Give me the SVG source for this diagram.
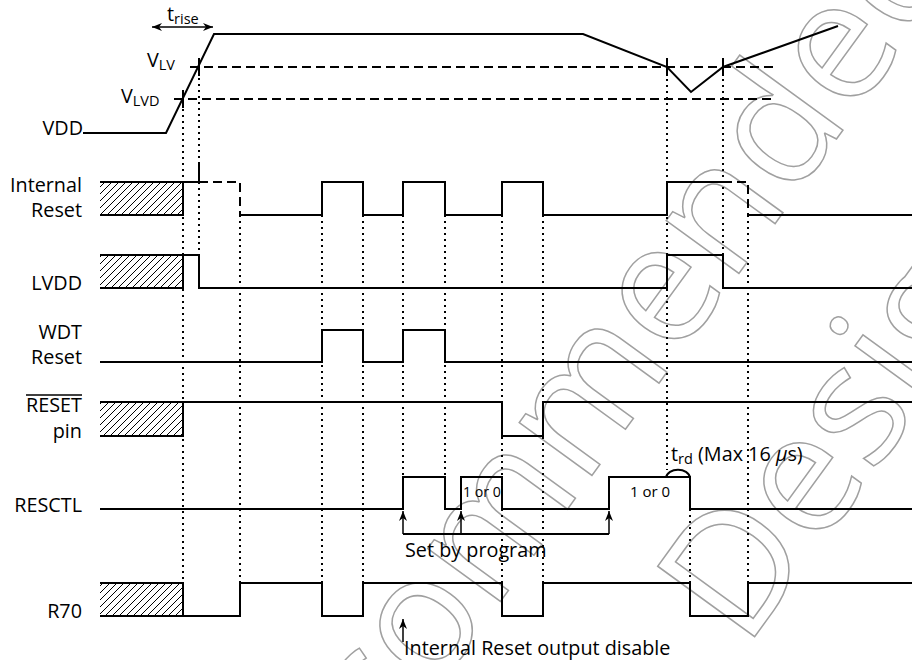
<svg xmlns="http://www.w3.org/2000/svg" width="912" height="660" viewBox="0 0 912 660">
<style>
.w{fill:none;stroke:#000;stroke-width:2;stroke-linejoin:miter}
.dash{fill:none;stroke:#000;stroke-width:2;stroke-dasharray:9 5}
.dot{fill:none;stroke:#000;stroke-width:2;stroke-dasharray:2 4}
.t{font-family:"Open Sans","Noto Sans","Liberation Sans",sans-serif;font-size:19.8px;fill:#000}
.s{font-size:14.5px}
.sm{font-family:"Open Sans","Noto Sans","Liberation Sans",sans-serif;font-size:15px;fill:#000}
.wm{font-family:"Open Sans","Noto Sans","Liberation Sans",sans-serif;font-size:168px;fill:none;stroke:#a0a0a0;stroke-width:1.5}
.ar{fill:none;stroke:#000;stroke-width:1.5}
</style>
<defs>
<pattern id="hatch" patternUnits="userSpaceOnUse" width="7" height="7">
<path d="M-1,8 L8,-1 M-1,1 L1,-1 M6,8 L8,6" stroke="#000" stroke-width="1"/>
</pattern>
<marker id="ah" viewBox="0 0 10 8" refX="10" refY="4" markerWidth="10" markerHeight="8" orient="auto-start-reverse" markerUnits="userSpaceOnUse">
<path d="M0,0 L10,4 L0,8 L3,4 Z" fill="#000"/>
</marker>
</defs>
<rect width="912" height="660" fill="#fff"/>

<g id="watermark">
<text class="wm" transform="translate(269,920) rotate(-54)">Recommended</text>
<text class="wm" transform="translate(745,650) rotate(-54)">Design</text>
</g>

<g id="guides">
<path class="dot" d="M183,103 V583 M199,72 V163 M199,182 V255 M240,215 V583 M322,215 V583 M363,215 V583 M403,215 V477 M445,215 V477 M502,215 V583 M543,215 V583 M667,67 V470 M723,67 V255 M748,215 V583 M690,509 V583"/>
</g>

<g id="vdd">
<text class="t" x="83" y="135" text-anchor="end">VDD</text>
<path class="w" d="M83,133 H166 L214,34 H583 L667,67 L691,92 L723,67 L838,26"/>
<path class="dash" d="M190,67 H773 M174,99 H773"/>
<path class="w" d="M199,58 V76 M183,90 V108 M667,58 V76 M723,58 V76"/>
<text class="t" x="147" y="67">V<tspan class="s" dy="3">LV</tspan></text>
<text class="t" x="121" y="103">V<tspan class="s" dy="3">LVD</tspan></text>
<text class="t" x="167" y="21">t<tspan class="s" dy="3">rise</tspan></text>
<path class="ar" d="M152,27 H213" marker-start="url(#ah)" marker-end="url(#ah)"/>
</g>

<g id="internal-reset">
<text class="t" x="82" y="192" text-anchor="end">Internal</text>
<text class="t" x="82" y="217" text-anchor="end">Reset</text>
<rect x="100" y="182" width="83" height="33" fill="url(#hatch)"/>
<path class="w" d="M100,182 H199 M183,182 V215 H100 M199,163 V182"/>
<path class="dash" d="M199,182 H240 V215 M723,182 H748 V215"/>
<path class="w" d="M240,215 H322 V182 H363 V215 H403 V182 H445 V215 H502 V182 H543 V215 H667 V182 H723 M748,215 H912"/>
</g>

<g id="lvdd">
<text class="t" x="82" y="290" text-anchor="end">LVDD</text>
<rect x="100" y="255" width="83" height="33" fill="url(#hatch)"/>
<path class="w" d="M100,255 H199 V288 H667 V255 H723 V288 H912 M183,255 V288 H100"/>
</g>

<g id="wdt-reset">
<text class="t" x="82" y="339" text-anchor="end">WDT</text>
<text class="t" x="82" y="364" text-anchor="end">Reset</text>
<path class="w" d="M100,362 H322 V330 H363 V362 H403 V330 H445 V362 H912"/>
</g>

<g id="reset-pin">
<text class="t" x="82" y="412" text-anchor="end">RESET</text>
<path d="M26,395 H82" stroke="#000" stroke-width="1.5"/>
<text class="t" x="82" y="438" text-anchor="end">pin</text>
<rect x="100" y="402" width="83" height="34" fill="url(#hatch)"/>
<path class="w" d="M100,402 H502 V436 H543 V402 H912 M183,402 V436 H100"/>
</g>

<g id="resctl">
<text class="t" x="82" y="512" text-anchor="end">RESCTL</text>
<path class="w" d="M100,509 H403 V477 H445 V509 H461 V477 H502 V509 H609 V477 H690 V509 H912"/>
<text class="sm" x="463" y="497" textLength="38" lengthAdjust="spacingAndGlyphs">1 or 0</text>
<text class="sm" x="650" y="497" text-anchor="middle">1 or 0</text>
<path d="M666,478 C667,467 689,467 690,478" fill="none" stroke="#000" stroke-width="2"/>
<text class="t" x="671" y="461">t<tspan class="s" dy="3">rd</tspan><tspan dy="-3"> (Max 16 </tspan><tspan font-style="italic">μ</tspan>s)</text>
</g>

<g id="r70">
<text class="t" x="82" y="618" text-anchor="end">R70</text>
<rect x="100" y="583" width="83" height="33" fill="url(#hatch)"/>
<path class="w" d="M100,583 H183 V616 H100 M183,616 H240 V583 H322 V616 H363 V583 H502 V616 H543 V583 H690 V616 H748 V583 H912"/>
</g>

<g id="connectors">
<path d="M403,534 H609" fill="none" stroke="#000" stroke-width="2"/>
<path class="ar" d="M403,534 V511" marker-end="url(#ah)"/>
<path class="ar" d="M461,534 V511" marker-end="url(#ah)"/>
<path class="ar" d="M609,534 V511" marker-end="url(#ah)"/>
<text class="t" x="405" y="557">Set by program</text>
<path class="ar" d="M403,642 V619" marker-end="url(#ah)"/>
<text class="t" x="404" y="655">Internal Reset output disable</text>
</g>
</svg>
